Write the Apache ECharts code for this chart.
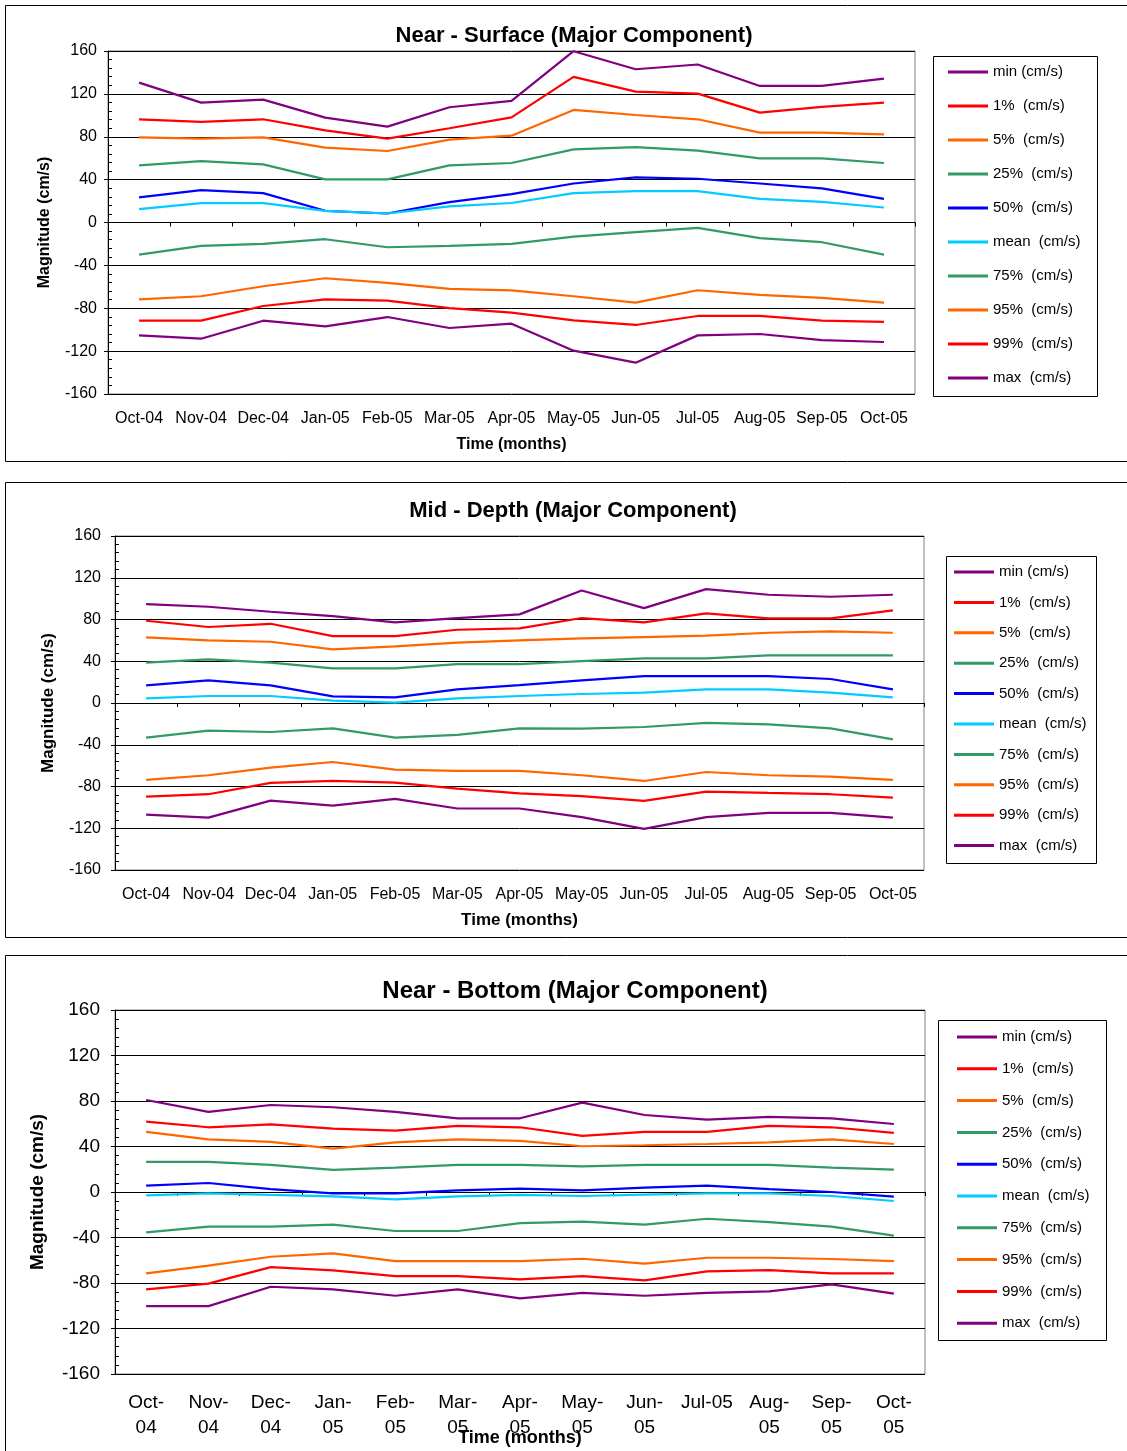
<!DOCTYPE html>
<html>
<head>
<meta charset="utf-8">
<script src="https://cdn.jsdelivr.net/npm/echarts@6/dist/echarts.min.js"></script>
<style>
html,body{margin:0;padding:0;background:#fff;overflow:hidden;}
#c{width:1127px;height:1451px;}
</style>
</head>
<body>
<div id="c"></div>
<script>
// ---------- DATA ----------
const months = ["Oct-04","Nov-04","Dec-04","Jan-05","Feb-05","Mar-05","Apr-05","May-05","Jun-05","Jul-05","Aug-05","Sep-05","Oct-05"];
const bottomTickLabels = ["Oct-\n04","Nov-\n04","Dec-\n04","Jan-\n05","Feb-\n05","Mar-\n05","Apr-\n05","May-\n05","Jun-\n05","Jul-05","Aug-\n05","Sep-\n05","Oct-\n05"];
const yTicks = [-160,-120,-80,-40,0,40,80,120,160];
const seriesNames = ["min (cm/s)","1%  (cm/s)","5%  (cm/s)","25%  (cm/s)","50%  (cm/s)","mean  (cm/s)","75%  (cm/s)","95%  (cm/s)","99%  (cm/s)","max  (cm/s)"];
const titles = ["Near - Surface (Major Component)","Mid - Depth (Major Component)","Near - Bottom (Major Component)"];

// Near - Surface
const surfaceMin  = [130.5,111.8,114.6,97.8,89.4,107.5,113.4,159.8,143.0,147.4,127.4,127.4,134.3];
const surfaceP1   = [96.3,93.8,96.3,86.0,78.2,87.9,98.1,135.8,122.1,120.2,102.5,107.8,111.8];
const surfaceP5   = [79.4,78.2,79.4,69.8,66.7,77.3,81.0,105.0,100.3,96.3,83.8,83.8,82.2];
const surfaceP25  = [53.3,57.3,54.2,40.2,40.2,53.3,55.5,68.2,70.4,67.0,59.8,59.8,55.5];
const surfaceP50  = [23.4,30.2,27.4,10.9,8.4,19.0,26.5,36.4,42.1,40.8,36.4,31.8,22.1];
const surfaceMean = [12.5,18.1,18.1,10.9,8.4,15.0,18.2,27.4,29.3,29.3,22.1,19.3,14.0];
const surfaceP75  = [-29.9,-21.8,-19.9,-15.6,-23.1,-21.8,-19.9,-13.1,-9.0,-5.0,-14.6,-18.4,-29.9];
const surfaceP95  = [-71.7,-68.8,-59.5,-52.0,-56.4,-62.0,-63.4,-68.8,-74.8,-63.2,-67.6,-70.4,-74.8];
const surfaceP99  = [-91.6,-91.6,-77.9,-71.7,-72.9,-79.8,-84.1,-91.3,-95.6,-87.2,-87.2,-91.6,-92.8];
const surfaceMax  = [-105.3,-108.4,-91.6,-96.9,-88.2,-98.4,-94.4,-119.6,-130.8,-105.3,-104.0,-109.7,-111.5];

// Mid - Depth
const midMin  = [94.8,92.2,87.4,83.3,77.2,81.4,84.9,107.8,90.9,109.1,103.7,101.8,103.7];
const midP1   = [78.8,72.8,75.9,64.1,64.1,70.2,71.5,81.4,77.2,85.8,81.0,81.0,88.7];
const midP5   = [62.9,60.0,58.7,51.4,54.2,57.8,60.0,61.9,63.2,64.5,67.3,68.6,67.3];
const midP25  = [38.6,41.8,38.6,33.2,33.2,37.3,37.3,40.2,42.8,42.8,45.6,45.6,45.6];
const midP50  = [16.9,21.7,16.9,6.4,5.4,13.1,17.2,21.7,25.8,25.8,25.8,23.0,13.1];
const midMean = [4.5,6.7,6.7,2.2,0.3,4.5,6.7,8.6,9.9,13.1,13.1,9.9,5.4];
const midP75  = [-33.2,-26.5,-27.8,-24.3,-33.2,-30.6,-24.3,-24.6,-23.0,-19.1,-20.4,-24.3,-34.8];
const midP95  = [-73.7,-69.2,-61.9,-56.5,-63.8,-65.1,-65.1,-69.2,-74.7,-66.1,-69.2,-70.5,-73.7];
const midP99  = [-89.7,-87.4,-76.6,-74.7,-76.3,-82.0,-86.5,-89.3,-93.8,-84.9,-86.2,-87.4,-90.6];
const midMax  = [-106.9,-109.8,-93.5,-98.3,-91.9,-101.1,-101.1,-109.4,-120.6,-109.4,-105.3,-105.3,-109.8];

// Near - Bottom
const bottomMin  = [80.9,70.4,76.5,74.5,70.4,64.8,64.8,78.6,67.7,63.6,66.0,64.8,59.8];
const bottomP1   = [61.9,56.9,59.5,55.7,54.0,58.1,56.9,49.3,52.8,52.8,58.1,56.9,51.9];
const bottomP5   = [52.8,46.3,44.0,38.1,43.7,46.3,44.9,40.2,41.1,42.2,43.7,46.3,42.2];
const bottomP25  = [26.4,26.4,23.8,19.4,21.4,23.8,23.8,22.6,23.8,23.8,23.8,21.4,19.6];
const bottomP50  = [5.6,7.9,2.6,-1.2,-1.2,1.5,2.9,1.5,3.8,5.6,2.6,0.0,-4.1];
const bottomMean = [-2.9,-1.2,-2.6,-3.8,-6.5,-3.8,-2.6,-3.5,-2.3,-1.2,-1.2,-3.5,-7.9];
const bottomP75  = [-35.5,-30.5,-30.5,-28.7,-34.3,-34.3,-27.3,-26.1,-28.7,-23.5,-26.4,-30.5,-38.4];
const bottomP95  = [-71.6,-64.8,-56.9,-54.0,-60.7,-60.7,-60.7,-58.7,-63.0,-57.8,-57.8,-58.9,-60.7];
const bottomP99  = [-85.6,-80.6,-66.0,-68.9,-73.9,-73.9,-76.8,-73.9,-77.7,-69.8,-68.6,-71.6,-71.6];
const bottomMax  = [-100.3,-100.3,-83.3,-85.6,-91.2,-85.6,-93.5,-88.6,-91.2,-88.6,-87.4,-81.2,-89.4];

// ---------- STYLE / LAYOUT ----------
const colors = ["#800080","#FF0000","#FF6600","#339966","#0000FF","#00CCFF","#339966","#FF6600","#FF0000","#800080"];
const FONT = "'Liberation Sans', Arial, sans-serif";

const panelData = [
  [surfaceMin,surfaceP1,surfaceP5,surfaceP25,surfaceP50,surfaceMean,surfaceP75,surfaceP95,surfaceP99,surfaceMax],
  [midMin,midP1,midP5,midP25,midP50,midMean,midP75,midP95,midP99,midMax],
  [bottomMin,bottomP1,bottomP5,bottomP25,bottomP50,bottomMean,bottomP75,bottomP95,bottomP99,bottomMax]
];

const layout = [
  {grid:{left:108,top:51,width:807,height:343}, title:{x:569,y:20,size:22}, yLabel:{size:16,margin:11}, yName:{size:16,gap:55}, xLabel:{size:16,margin:16,lh:18}, xName:{size:16,gap:43},
   legend:{left:948,top:64,gap:18,size:15}, legendBox:[933.5,56.5,164,340]},
  {grid:{left:115,top:536,width:809,height:334}, title:{x:568,y:495,size:22}, yLabel:{size:16,margin:14}, yName:{size:17,gap:58}, xLabel:{size:16,margin:16,lh:18}, xName:{size:17,gap:42},
   legend:{left:954,top:564,gap:14.4,size:15}, legendBox:[946.5,556.5,150,307]},
  {grid:{left:115,top:1010,width:810,height:364}, title:{x:570,y:974,size:24}, yLabel:{size:19,margin:15}, yName:{size:19,gap:68}, xLabel:{size:19,margin:16,lh:25}, xName:{size:18,gap:55},
   legend:{left:957,top:1029,gap:15.8,size:15}, legendBox:[938.5,1020.5,168,320]}
];

const option = {
  animation:false,
  backgroundColor:'#fff',
  textStyle:{fontFamily:FONT},
  title:[], grid:[], xAxis:[], yAxis:[], legend:[], series:[],
  graphic:[
    {type:'rect', shape:{x:5.5,y:5.5,width:1200,height:456}, style:{fill:null,stroke:'#000',lineWidth:1}, z:0},
    {type:'rect', shape:{x:5.5,y:482.5,width:1200,height:455}, style:{fill:null,stroke:'#000',lineWidth:1}, z:0},
    {type:'rect', shape:{x:5.5,y:955.5,width:1200,height:600}, style:{fill:null,stroke:'#000',lineWidth:1}, z:0}
  ]
};

layout.forEach((L,p)=>{
  option.title.push({text:titles[p], left:L.title.x, top:L.title.y, textAlign:'center',
    textStyle:{fontFamily:FONT,fontSize:L.title.size,fontWeight:'bold',color:'#000'}});
  option.grid.push(Object.assign({show:true,borderColor:'#808080',borderWidth:1,backgroundColor:'#fff',
    containLabel:false, outerBoundsMode:'none'},L.grid));
  option.xAxis.push({type:'category', gridIndex:p, data:months, boundaryGap:true,
    axisLine:{lineStyle:{color:'#000',width:1}},
    axisTick:{show:true,length:4,alignWithLabel:false,lineStyle:{color:'#000'}},
    axisLabel:{interval:0,margin:L.xLabel.margin,fontSize:L.xLabel.size,color:'#000',fontFamily:FONT,lineHeight:L.xLabel.lh,
      formatter:(v,i)=> p===2 ? bottomTickLabels[i] : v},
    name:'Time (months)', nameLocation:'middle', nameGap:L.xName.gap, nameMoveOverlap:false,
    nameTextStyle:{fontSize:L.xName.size,fontWeight:'bold',color:'#000',fontFamily:FONT},
    splitLine:{show:false}});
  option.yAxis.push({type:'value', gridIndex:p, min:yTicks[0], max:yTicks[yTicks.length-1], interval:40,
    axisLine:{show:true,lineStyle:{color:'#000',width:1}},
    axisTick:{show:true,length:4,lineStyle:{color:'#000'}},
    axisLabel:{fontSize:L.yLabel.size,color:'#000',fontFamily:FONT,margin:L.yLabel.margin},
    splitLine:{show:true,lineStyle:{color:'#000',width:1}},
    name:'Magnitude (cm/s)', nameLocation:'middle', nameGap:L.yName.gap, nameMoveOverlap:false,
    nameTextStyle:{fontSize:L.yName.size,fontWeight:'bold',color:'#000',fontFamily:FONT}});
  // minor ticks axis (inside)
  option.yAxis.push({type:'value', gridIndex:p, position:'left', offset:0, min:-160, max:160, interval:8,
    axisLine:{show:false}, axisTick:{show:true,inside:true,length:4,lineStyle:{color:'#000'}},
    axisLabel:{show:false}, splitLine:{show:false}});
  option.legend.push({orient:'vertical', left:L.legend.left, top:L.legend.top, padding:0,
    itemWidth:40, itemHeight:3, itemGap:L.legend.gap, icon:'rect', selectedMode:false,
    textStyle:{fontSize:L.legend.size,color:'#000',fontFamily:FONT,lineHeight:16},
    data:seriesNames});
  const b = L.legendBox;
  option.graphic.push({type:'rect', shape:{x:b[0],y:b[1],width:b[2],height:b[3]}, style:{fill:null,stroke:'#000',lineWidth:1}, z:0});
  panelData[p].forEach((arr,k)=>{
    option.series.push({type:'line', name:seriesNames[k], xAxisIndex:p, yAxisIndex:p*2, data:arr,
      symbol:'none', color:colors[k], lineStyle:{width:2.2,color:colors[k]}, z:3});
  });
});

const chart = echarts.init(document.getElementById('c'), null, {renderer:'canvas'});
chart.setOption(option);
</script>
</body>
</html>
